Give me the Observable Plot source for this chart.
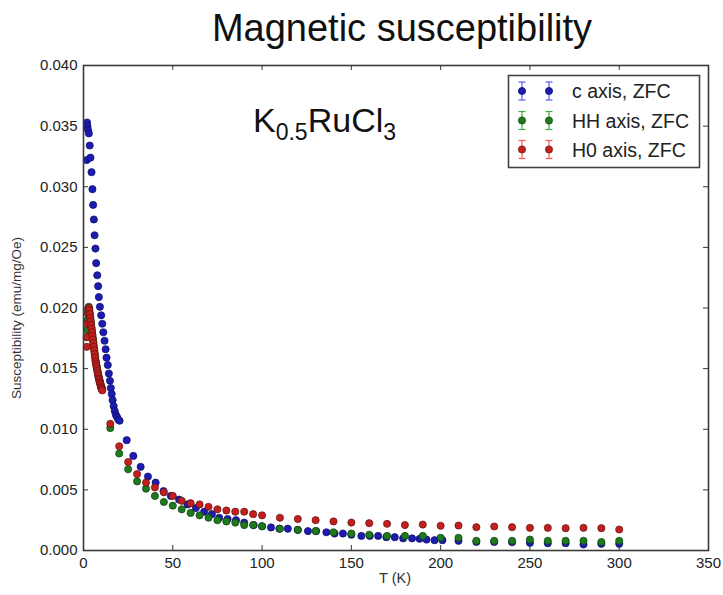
<!DOCTYPE html>
<html>
<head>
<meta charset="utf-8">
<script src="https://cdn.jsdelivr.net/npm/d3@7"></script>
<script src="https://cdn.jsdelivr.net/npm/@observablehq/plot@0.6"></script>
<style>
  body { margin: 0; background: #fff; }
  #chart { width: 723px; height: 595px; }
</style>
</head>
<body>
<div id="chart"></div>
<script>
// Zero-field-cooled susceptibility of K0.5RuCl3 along three field directions.
// Temperatures in K, susceptibility in emu/mg/Oe.

const seriesNames = ["c axis, ZFC", "HH axis, ZFC", "H0 axis, ZFC"];
const seriesFill = ["#1c1cb0", "#1d7a1d", "#c21f1f"];
const seriesEdge = ["#0b0b66", "#0b3d0b", "#661010"];
const seriesBar = ["#5a5af5", "#45ad45", "#f25a5a"];

const cAxisT = [
  1.8, 2.0, 2.2, 2.5, 3.0, 3.5, 3.9, 4.5, 5.0, 5.4, 5.8, 6.2, 6.7, 7.1, 7.7, 8.2, 8.6, 9.2,
  9.9, 10.5, 11.1, 11.8, 12.4, 12.9, 13.6, 14.2, 14.8, 15.3, 15.8, 16.3, 16.9, 17.5, 18.1,
  18.8, 19.5, 20.2,
  24.2, 27.9, 32.0, 36.1, 40.4, 44.8, 48.9, 53.5, 58.3, 62.9, 67.6, 71.9, 76.0, 80.7, 85.4,
  90.0, 95.3, 100.0,
  105.0, 109.7, 114.4, 120.0, 125.7, 130.3, 136.0, 140.6, 145.3, 150.0, 155.6, 160.3, 165.0,
  169.6, 174.3, 179.0, 184.0, 188.2, 192.1, 196.6, 201.0,
  210, 220, 230, 240, 250, 260, 270, 280, 290, 300
];
const cAxisChi = [
  0.0322, 0.0353, 0.0350, 0.0347, 0.0344, 0.0334, 0.0324, 0.0312, 0.0298, 0.0285, 0.0273,
  0.0260, 0.0249, 0.0237, 0.0227, 0.0218, 0.0209, 0.0201, 0.0194, 0.0187, 0.0180, 0.0173,
  0.0166, 0.0159, 0.0153, 0.0146, 0.0140, 0.0134, 0.0129, 0.0124, 0.0119, 0.0115, 0.0112,
  0.0110, 0.0108, 0.0107,
  0.0091, 0.0078, 0.0069, 0.0061, 0.0056, 0.0049, 0.0045, 0.0042, 0.0038, 0.0035, 0.0032,
  0.0030, 0.0027, 0.0026, 0.0025, 0.0023, 0.0021, 0.0020,
  0.0019, 0.0018, 0.0018, 0.0017, 0.0016, 0.0016, 0.0015, 0.0014, 0.0014, 0.0013, 0.0012,
  0.0012, 0.0012, 0.0011, 0.0011, 0.0010, 0.0010, 0.00096, 0.0009, 0.00085, 0.00085,
  0.0008, 0.0007, 0.0007, 0.00068, 0.00063, 0.0006, 0.0006, 0.0005, 0.00055, 0.00055
];

const hhAxisT = [
  1.8, 2.0, 2.25, 2.5, 2.75, 3.0, 3.25, 3.5, 3.75, 4.0, 4.25, 4.5, 4.75, 5.0, 5.25, 5.5,
  5.75, 6.0, 6.25, 6.5, 6.75, 7.0, 7.25, 7.5, 7.75, 8.0, 8.25, 8.5, 8.75, 9.0, 9.25, 9.5,
  9.75, 10.0, 10.25, 10.5,
  15, 20, 25, 30, 35, 40, 45, 50, 55, 60, 65, 70, 75, 80, 85, 90, 95, 100,
  110, 120, 130, 140, 150, 160, 170, 180, 190, 200, 210, 220, 230, 240, 250, 260, 270, 280,
  290, 300
];
const hhAxisChi = [
  0.0176, 0.0182, 0.0190, 0.0197, 0.0200, 0.0201, 0.0199, 0.0196, 0.0193, 0.0190, 0.0187,
  0.0184, 0.0181, 0.0178, 0.0175, 0.0172, 0.0169, 0.0166, 0.0163, 0.0160, 0.0157, 0.0155,
  0.0153, 0.0151, 0.0149, 0.0147, 0.0145, 0.0143, 0.0142, 0.0140, 0.0139, 0.0138, 0.0136,
  0.0135, 0.0134, 0.0133,
  0.0101, 0.0080, 0.0067, 0.0057, 0.0051, 0.0045, 0.0040, 0.0037, 0.0034, 0.0031, 0.0029,
  0.0027, 0.0025, 0.0024, 0.0023, 0.0021, 0.0021, 0.0020,
  0.0018, 0.0017, 0.0016, 0.0015, 0.0014, 0.0013, 0.0012, 0.0012, 0.0012, 0.00105, 0.00105,
  0.0008, 0.0008, 0.0008, 0.0009, 0.0008, 0.0008, 0.0008, 0.0007, 0.0008
];

const h0AxisT = [
  1.8, 2.0, 2.25, 2.5, 2.75, 3.0, 3.25, 3.5, 3.75, 4.0, 4.25, 4.5, 4.75, 5.0, 5.25, 5.5,
  5.75, 6.0, 6.25, 6.5, 6.75, 7.0, 7.25, 7.5, 7.75, 8.0, 8.25, 8.5, 8.75, 9.0, 9.25, 9.5,
  9.75, 10.0, 10.25, 10.5,
  15, 20, 25, 30, 35, 40, 45, 50, 55, 60, 65, 70, 75, 80, 85, 90, 95, 100,
  110, 120, 130, 140, 150, 160, 170, 180, 190, 200, 210, 220, 230, 240, 250, 260, 270, 280,
  290, 300
];
const h0AxisChi = [
  0.0168, 0.0176, 0.0187, 0.0195, 0.0199, 0.0200, 0.0198, 0.0195, 0.0192, 0.0189, 0.0186,
  0.0183, 0.0180, 0.0177, 0.0174, 0.0171, 0.0168, 0.0165, 0.0162, 0.0159, 0.0156, 0.0154,
  0.0152, 0.0150, 0.0148, 0.0146, 0.0144, 0.0142, 0.0141, 0.0139, 0.0138, 0.0137, 0.0135,
  0.0134, 0.0133, 0.0132,
  0.01045, 0.0086, 0.0073, 0.0063, 0.0056, 0.0052, 0.0048, 0.0045, 0.0041, 0.0039, 0.0038,
  0.0036, 0.0034, 0.0033, 0.0032, 0.0032, 0.0030, 0.0029,
  0.0027, 0.0026, 0.0025, 0.0024, 0.0023, 0.00225, 0.0022, 0.0021, 0.00214, 0.00204, 0.00206,
  0.00192, 0.00198, 0.00192, 0.00187, 0.00187, 0.00184, 0.00187, 0.00184, 0.00173
];

const xTicks = [0, 50, 100, 150, 200, 250, 300, 350];
const yTicks = [0, 0.005, 0.010, 0.015, 0.020, 0.025, 0.030, 0.035, 0.040];

const toRows = (T, chi) => T.map((t, i) => ({T: t, chi: chi[i]}));
const series = [toRows(cAxisT, cAxisChi), toRows(hhAxisT, hhAxisChi), toRows(h0AxisT, h0AxisChi)];

const W = 723, H = 595;
const mL = 83, mR = 15, mT = 65, mB = 45;
const innerW = W - mL - mR, innerH = H - mT - mB;
const tickLen = 5;
const font = "'Liberation Sans', Arial, Helvetica, sans-serif";

const svg = Plot.plot({
  width: W,
  height: H,
  marginLeft: mL,
  marginRight: mR,
  marginTop: mT,
  marginBottom: mB,
  style: {fontFamily: font, fontSize: "15px", color: "#222", background: "#fff"},
  x: {domain: [0, 350], label: null},
  y: {domain: [0, 0.04], label: null},
  marks: [
    Plot.axisX(xTicks, {tickSize: 0, tickPadding: 7, fontSize: 15, label: null}),
    Plot.axisY(yTicks, {tickSize: 0, tickPadding: 6, fontSize: 15, label: null, tickFormat: d3.format(".3f")}),
    // inward ticks on all four sides
    Plot.tickX(xTicks, {x: d => d, insetTop: innerH - tickLen, stroke: "#333", strokeWidth: 1}),
    Plot.tickX(xTicks, {x: d => d, insetBottom: innerH - tickLen, stroke: "#333", strokeWidth: 1}),
    Plot.tickY(yTicks, {y: d => d, insetRight: innerW - tickLen, stroke: "#333", strokeWidth: 1}),
    Plot.tickY(yTicks, {y: d => d, insetLeft: innerW - tickLen, stroke: "#333", strokeWidth: 1}),
    ...series.map((rows, i) => Plot.dot(rows, {
      x: "T", y: "chi", r: 3.6,
      fill: seriesFill[i], stroke: seriesEdge[i], strokeWidth: 0.7
    })),
    Plot.frame({stroke: "#3a3a3a", strokeWidth: 1.6})
  ]
});

const root = d3.select(svg);

// Title
root.append("text")
  .attr("x", 402).attr("y", 41)
  .attr("text-anchor", "middle")
  .attr("font-family", font).attr("font-size", 38)
  .attr("fill", "#111")
  .text("Magnetic susceptibility");

// Compound formula inside the axes
const formula = root.append("text")
  .attr("x", 253).attr("y", 132)
  .attr("text-anchor", "start")
  .attr("font-family", font).attr("font-size", 34)
  .attr("fill", "#111");
formula.append("tspan").text("K");
formula.append("tspan").attr("font-size", 23).attr("dy", 8).text("0.5");
formula.append("tspan").attr("dy", -8).text("RuCl");
formula.append("tspan").attr("font-size", 23).attr("dy", 8).text("3");

// Axis titles
root.append("text")
  .attr("transform", "translate(21,318) rotate(-90)")
  .attr("text-anchor", "middle")
  .attr("font-family", font).attr("font-size", 13.5)
  .attr("fill", "#333")
  .text("Susceptibility (emu/mg/Oe)");
root.append("text")
  .attr("x", 395).attr("y", 583)
  .attr("text-anchor", "middle")
  .attr("font-family", font).attr("font-size", 14.5)
  .attr("fill", "#333")
  .text("T (K)");

// Legend with error-bar markers
const legend = root.append("g");
legend.append("rect")
  .attr("x", 508.5).attr("y", 75.5).attr("width", 191).attr("height", 92)
  .attr("fill", "#fff").attr("stroke", "#444").attr("stroke-width", 1.6);
const rowY = [91, 120.5, 149.5];
const markX = [522, 549];
seriesNames.forEach((name, i) => {
  const cy = rowY[i];
  markX.forEach(cx => {
    legend.append("line")
      .attr("x1", cx).attr("x2", cx).attr("y1", cy - 9).attr("y2", cy + 9)
      .attr("stroke", seriesBar[i]).attr("stroke-width", 1.2);
    [cy - 9, cy + 9].forEach(yy => legend.append("line")
      .attr("x1", cx - 3.5).attr("x2", cx + 3.5).attr("y1", yy).attr("y2", yy)
      .attr("stroke", seriesBar[i]).attr("stroke-width", 1.2));
    legend.append("circle")
      .attr("cx", cx).attr("cy", cy).attr("r", 3.6)
      .attr("fill", seriesFill[i]).attr("stroke", seriesEdge[i]).attr("stroke-width", 0.7);
  });
  legend.append("text")
    .attr("x", 572).attr("y", cy).attr("dy", "0.36em")
    .attr("text-anchor", "start")
    .attr("font-family", font).attr("font-size", 19.5)
    .attr("fill", "#222")
    .text(name);
});

document.getElementById("chart").appendChild(svg);
</script>
</body>
</html>
